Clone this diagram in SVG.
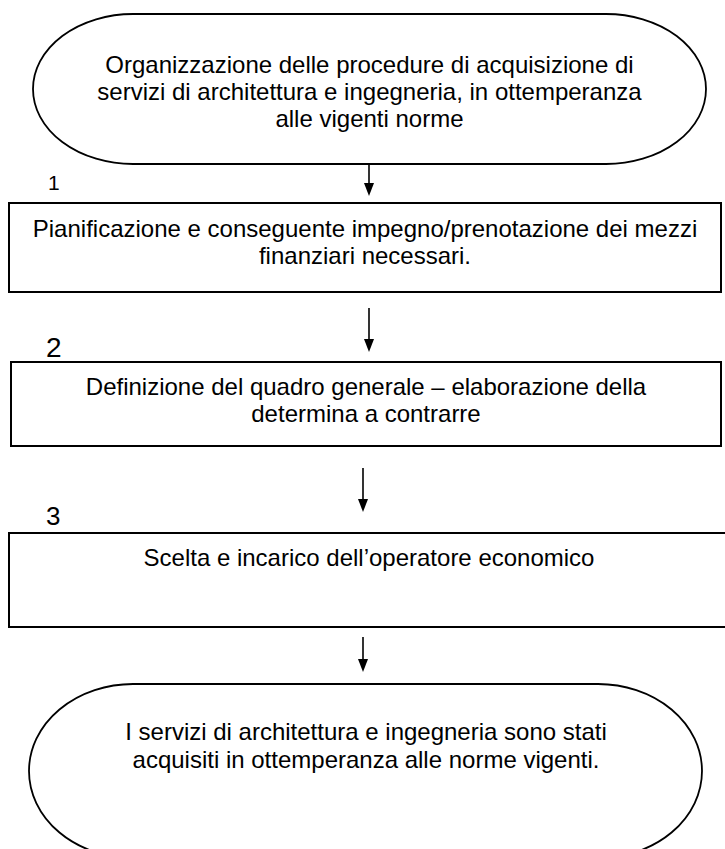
<svg xmlns="http://www.w3.org/2000/svg" width="725" height="849" viewBox="0 0 725 849">
<style>
.t{font-family:"Liberation Sans",Arial,sans-serif;font-size:24px;fill:#000;text-anchor:middle}
.n{font-family:"Liberation Sans",Arial,sans-serif;fill:#000}
.shape{fill:#fff;stroke:#000;stroke-width:2}
.term{fill:#fff;stroke:#000;stroke-width:1.8}
.conn line{stroke:#000;stroke-width:1.6}
.conn polygon{fill:#000}
</style>
<rect width="725" height="849" fill="#fff"/>
<g id="start">
<rect class="term" x="33" y="14" width="673" height="150" rx="100" ry="75"/>
<text class="t" x="369.5" y="73">Organizzazione delle procedure di acquisizione di</text>
<text class="t" x="369.5" y="100">servizi di architettura e ingegneria, in ottemperanza</text>
<text class="t" x="369.5" y="127">alle vigenti norme</text>
</g>
<g id="step1">
<text class="n" x="48" y="190" font-size="21">1</text>
<rect class="shape" x="9" y="203" width="712" height="89"/>
<text class="t" x="365" y="237">Pianificazione e conseguente impegno/prenotazione dei mezzi</text>
<text class="t" x="365" y="264">finanziari necessari.</text>
</g>
<g id="step2">
<text class="n" x="46" y="357" font-size="28">2</text>
<rect class="shape" x="11" y="362" width="710" height="84"/>
<text class="t" x="366" y="395">Definizione del quadro generale – elaborazione della</text>
<text class="t" x="366" y="422">determina a contrarre</text>
</g>
<g id="step3">
<text class="n" x="46" y="525" font-size="26">3</text>
<rect class="shape" x="9" y="533" width="730" height="94"/>
<text class="t" x="369" y="566">Scelta e incarico dell’operatore economico</text>
</g>
<g id="end">
<rect class="term" x="29" y="684" width="673" height="174" rx="104" ry="87"/>
<text class="t" x="366" y="740">I servizi di architettura e ingegneria sono stati</text>
<text class="t" x="366" y="768">acquisiti in ottemperanza alle norme vigenti.</text>
</g>
<g id="connectors" class="conn">
<line x1="369" y1="165" x2="369" y2="185"/>
<polygon points="364,183 374,183 369,196"/>
<line x1="369" y1="308" x2="369" y2="342"/>
<polygon points="364,339 374,339 369,352"/>
<line x1="363" y1="468" x2="363" y2="502"/>
<polygon points="358,499 368,499 363,512"/>
<line x1="363" y1="637" x2="363" y2="662"/>
<polygon points="358,659 368,659 363,672"/>
</g>
</svg>
